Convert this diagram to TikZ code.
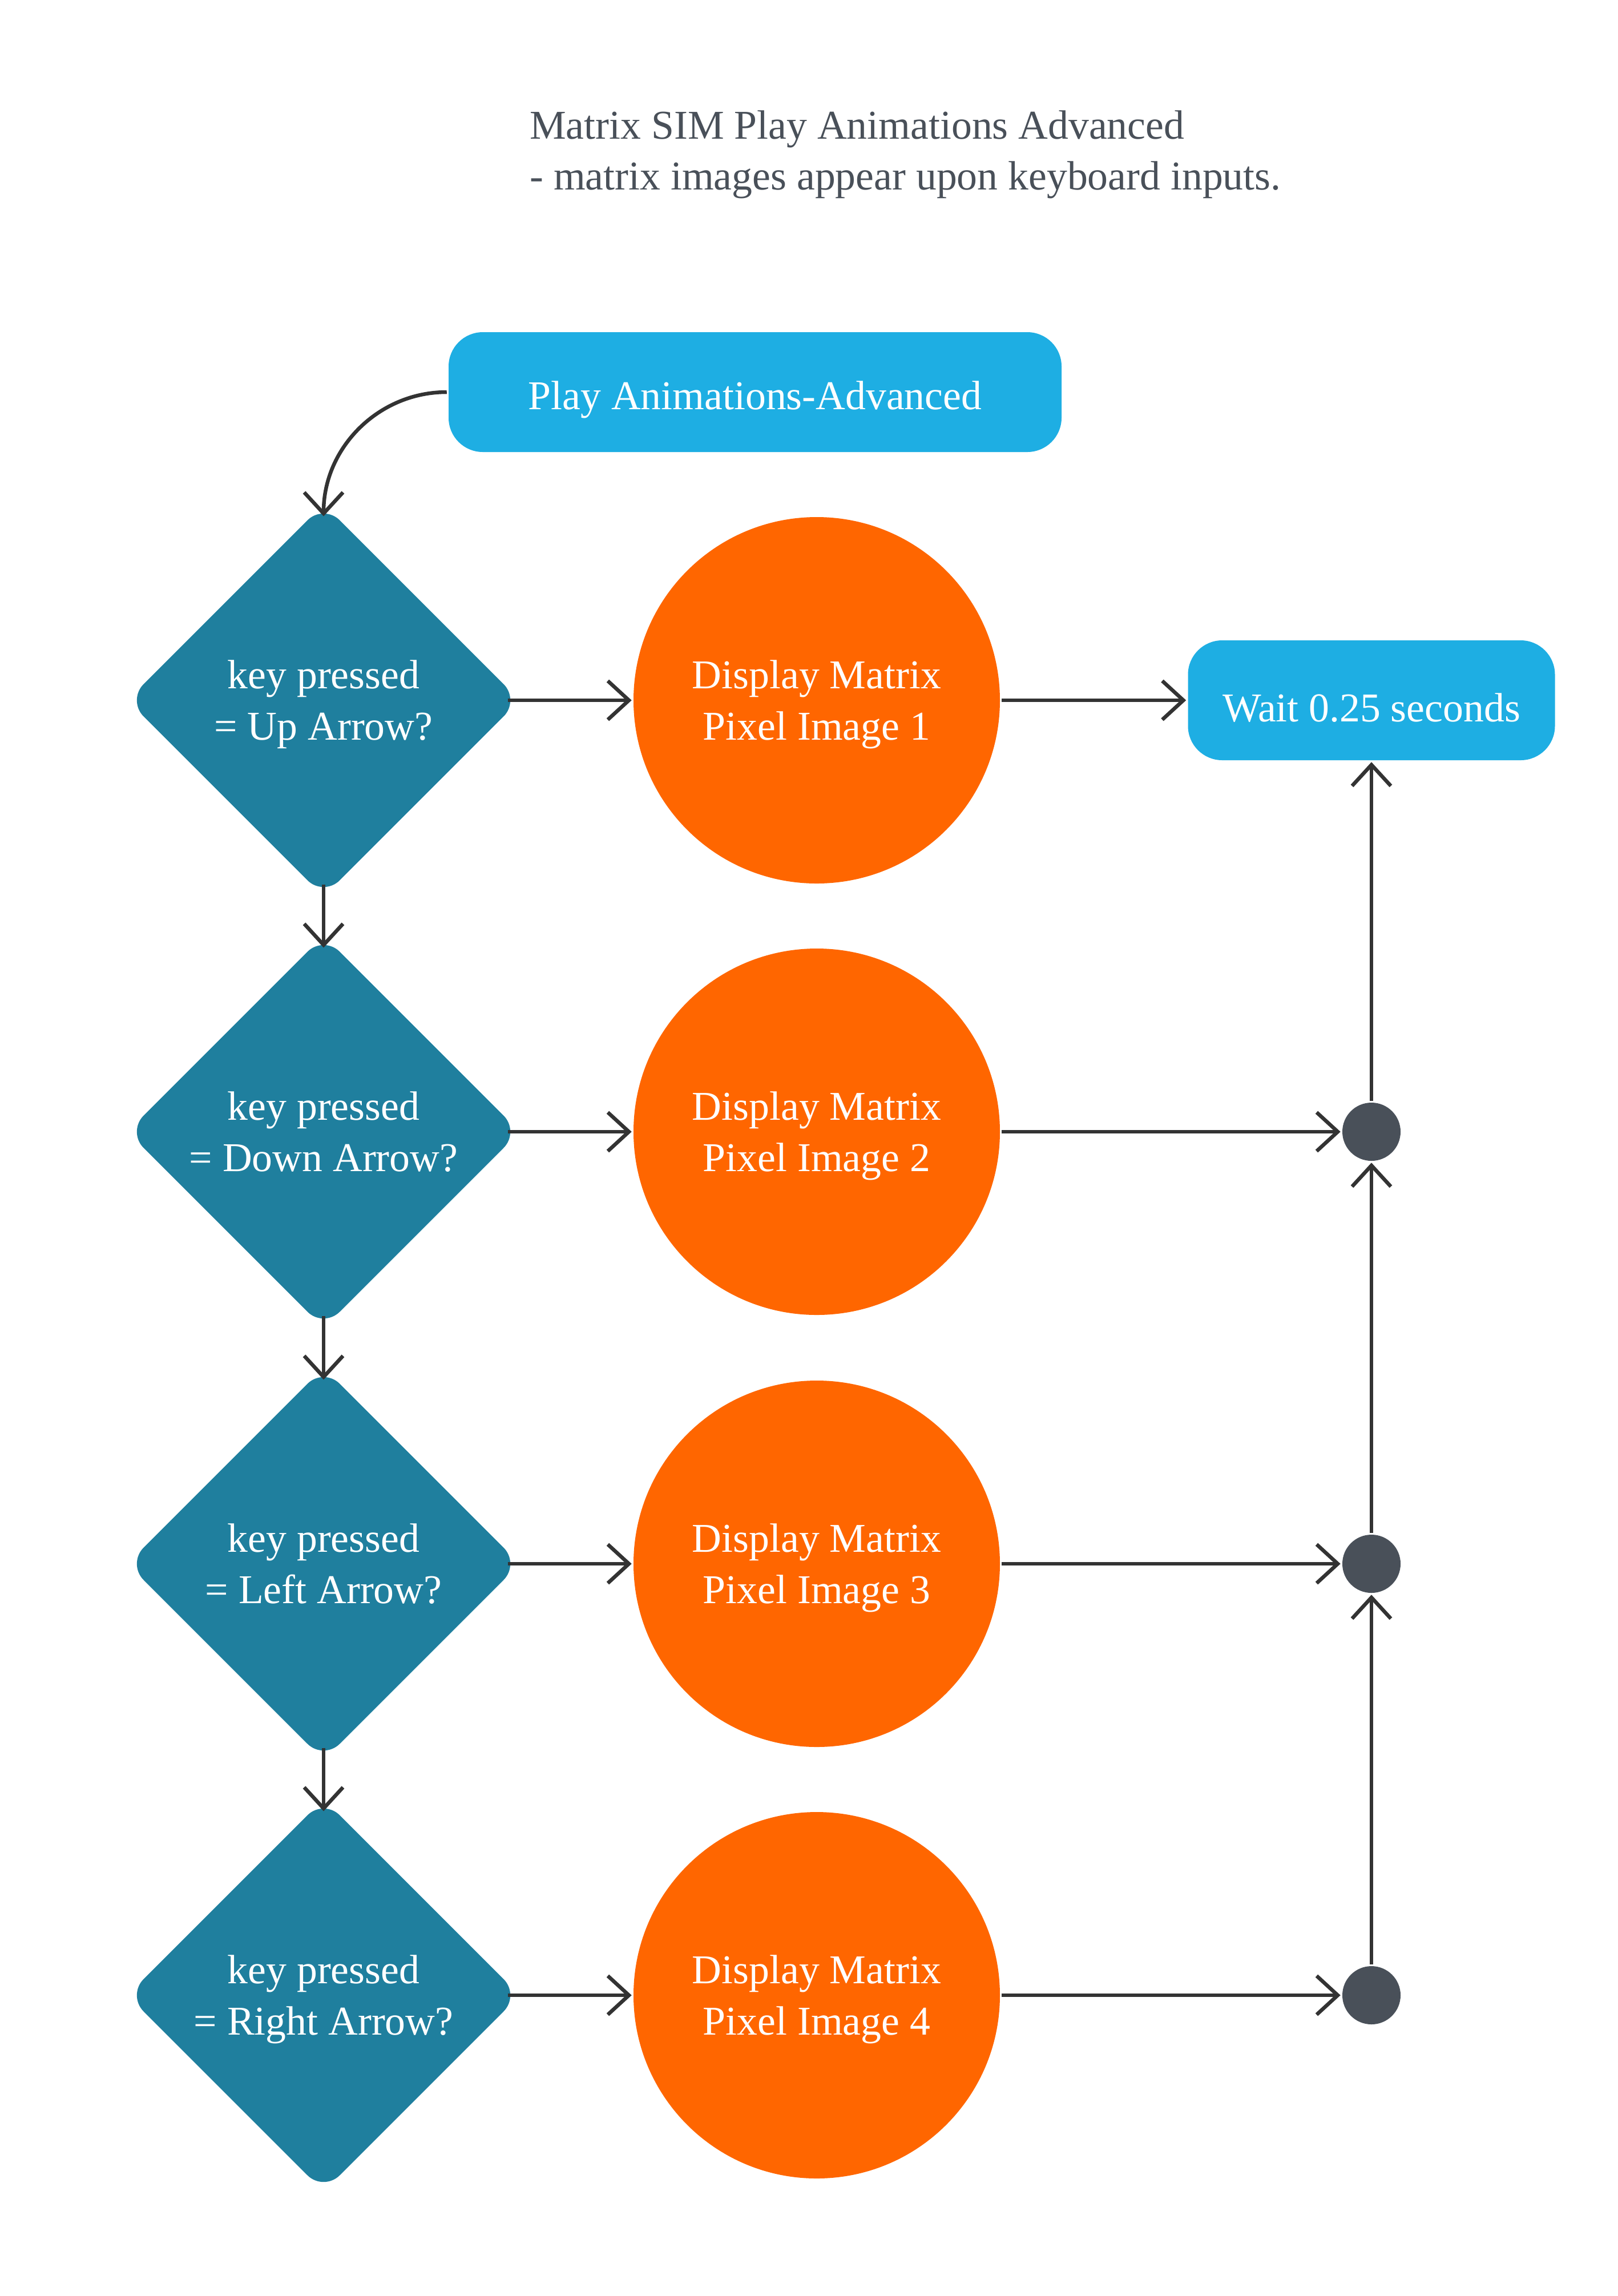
\documentclass[tikz,border=0pt]{standalone}
\usepackage{fontspec}
\setmainfont{Liberation Serif}
\usetikzlibrary{shapes.geometric,arrows.meta}
\definecolor{skyblue}{HTML}{1EAEE3}
\definecolor{tealblue}{HTML}{1F7F9E}
\definecolor{orangefill}{HTML}{FF6600}
\definecolor{slategray}{HTML}{495059}
\definecolor{linegray}{HTML}{333333}
\tikzset{
  box/.style={fill=skyblue,rounded corners=6mm,text=white,minimum height=2.1cm,inner sep=0pt,
    execute at begin node={\rule{0pt}{7.6mm}}},
  test/.style={diamond,aspect=1,fill=tealblue,rounded corners=4mm,text=white,align=center,
    minimum size=6.75cm,inner sep=0pt,outer sep=-1.5mm,text depth=-2mm},
  disp/.style={circle,fill=orangefill,text=white,align=center,minimum size=6.42cm,inner sep=0pt,
    text depth=-2mm},
  joint/.style={circle,fill=slategray,minimum size=1.02cm,inner sep=0pt},
}
\begin{document}
\begin{tikzpicture}[>={Straight Barb[length=3.7mm,width=6.8mm]},line width=0.065cm,
    font=\fontsize{20.4pt}{25.6pt}\selectfont]
\useasboundingbox (0,0) rectangle (28.35,-40.23);
\node[anchor=north west,inner sep=0pt,align=left,text=slategray](title)at(9.25,-1.9)
    {Matrix SIM Play Animations Advanced\\- matrix images appear upon keyboard inputs.};
\node[box,minimum width=10.74cm](start)at(13.23,-6.87){Play Animations-Advanced};
\node[box,minimum width=6.43cm](wait)at(24.03,-12.27){Wait 0.25 seconds};
% decisions
\node[test](d1)at(5.67,-12.27){key pressed\\= Up Arrow?};
\node[test](d2)at(5.67,-19.83){key pressed\\= Down Arrow?};
\node[test](d3)at(5.67,-27.40){key pressed\\= Left Arrow?};
\node[test](d4)at(5.67,-34.96){key pressed\\= Right Arrow?};
% images
\node[disp](c1)at(14.31,-12.27){Display Matrix\\Pixel Image 1};
\node[disp](c2)at(14.31,-19.83){Display Matrix\\Pixel Image 2};
\node[disp](c3)at(14.31,-27.40){Display Matrix\\Pixel Image 3};
\node[disp](c4)at(14.31,-34.96){Display Matrix\\Pixel Image 4};
% joins
\node[joint](j2)at(24.03,-19.83){};
\node[joint](j3)at(24.03,-27.40){};
\node[joint](j4)at(24.03,-34.96){};
\begin{scope}[linegray]
\draw[->](start.west)to[out=180,in=90](d1.north);
\draw[->](d1)--(d2);\draw[->](d2)--(d3);\draw[->](d3)--(d4);
\draw[->](d1)--(c1);\draw[->](d2)--(c2);\draw[->](d3)--(c3);\draw[->](d4)--(c4);
\draw[->](c1)--(wait);\draw[->](c2)--(j2);\draw[->](c3)--(j3);\draw[->](c4)--(j4);
\draw[->](j4)--(j3);\draw[->](j3)--(j2);\draw[->](j2)--(wait);
\end{scope}
\end{tikzpicture}
\end{document}
